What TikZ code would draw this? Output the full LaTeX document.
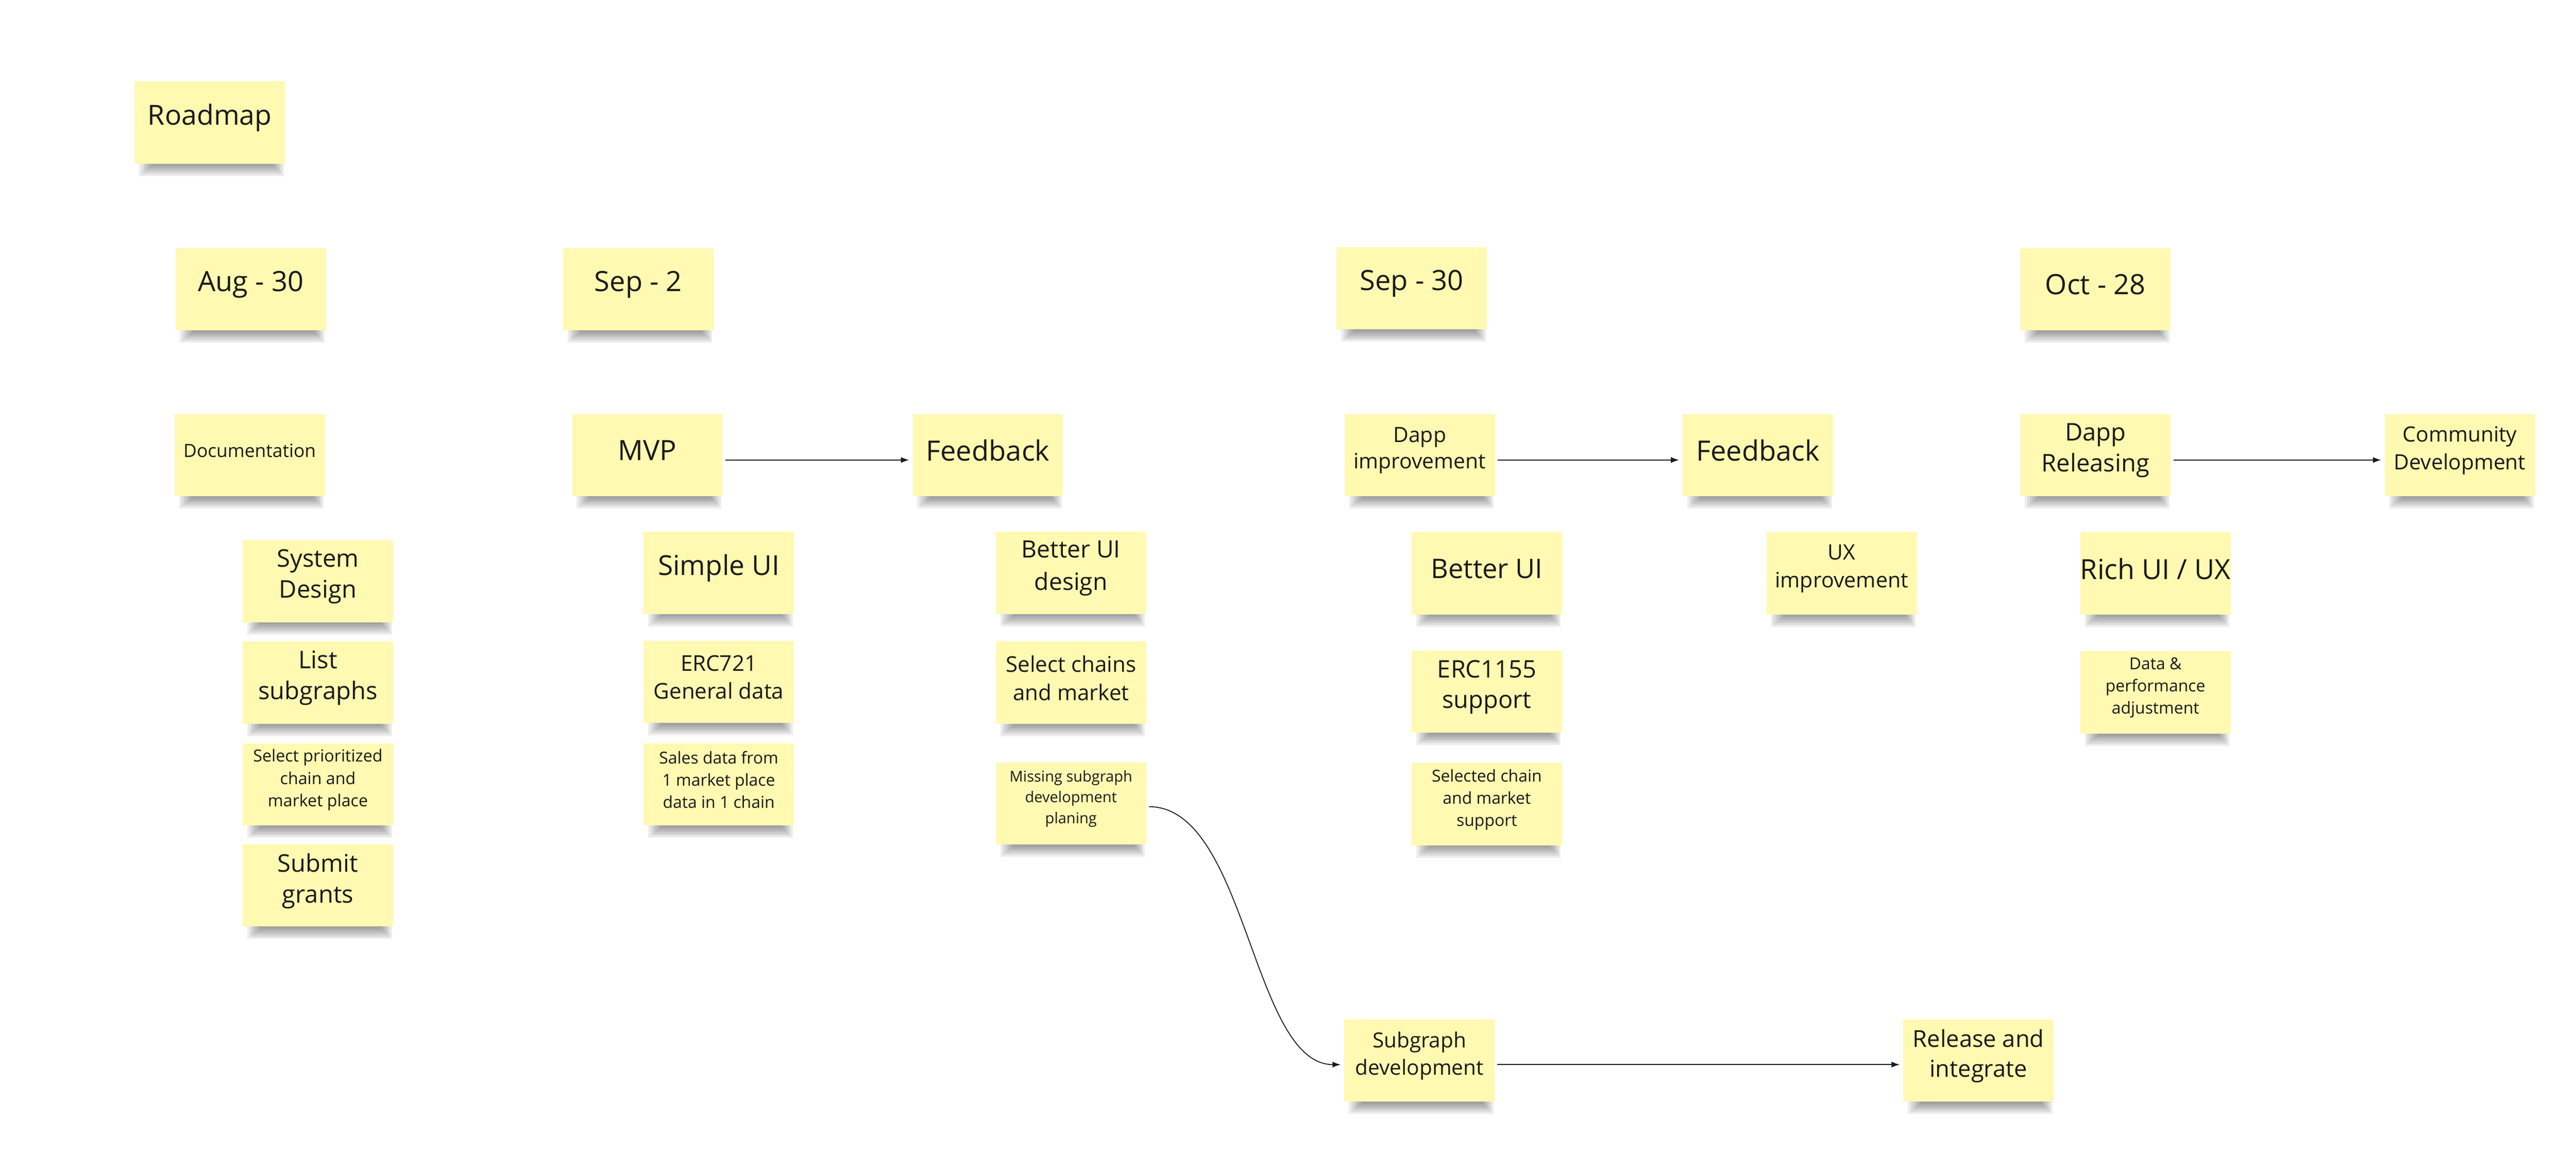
\documentclass[tikz,border=0pt]{standalone}
\usepackage{fontspec}
\setmainfont{Open Sans}
\usetikzlibrary{arrows.meta}
\definecolor{notey}{HTML}{FFF9B1}
\definecolor{inkc}{HTML}{1A1A1A}
\tikzset{
  notebox/.style={rectangle, fill=notey, minimum width=91.5pt, minimum height=50pt,
    inner sep=0pt},
  notetext/.style={inner sep=0pt, align=center, text=inkc},
  conn/.style={draw=inkc, line width=0.55pt, -{Latex[length=5pt,width=3.6pt]},
    shorten >=2pt, shorten <=1.5pt}
}
\newcommand\stickynote[5]{%
  \foreach \k in {0,...,5}{%
    \fill[black,opacity=0.07] (#2-43+\k*1.5, #3+25) rectangle (#2+45-\k*1.2, #3+25+7.5-\k*1.2);
  }
  \node[notebox] (#1) at (#2,#3) {};
  \node[notetext, font=\fontsize{#4}{#4}\selectfont] (#1-t) at (#2,#3-2.8) {#5};
}
\begin{document}
\begin{tikzpicture}[x=1pt,y=-1pt]
\fill[white] (0,0) rectangle (1568,701);
\useasboundingbox (0,0) rectangle (1568,701);

% title and dates
\stickynote{roadmap}{127.7}{74.6}{16.8}{Roadmap}
\stickynote{aug}{152.6}{176}{17}{Aug - 30}
\stickynote{sepA}{388.5}{176}{17}{Sep - 2}
\stickynote{sepB}{859.3}{175.5}{17}{Sep - 30}
\stickynote{oct}{1275.5}{176}{17}{Oct - 28}

% main row
\stickynote{doc}{152}{277}{11.1}{Documentation}
\stickynote{mvp}{394}{277}{17}{MVP}
\stickynote{fbA}{601.3}{277}{17}{Feedback}
\stickynote{dappimp}{864.2}{277}{12.8}{Dapp\\[3pt]improvement}
\stickynote{fbB}{1070}{277}{17}{Feedback}
\stickynote{dapprel}{1275.5}{277}{14.8}{Dapp\\[4pt]Releasing}
\stickynote{comm}{1497.3}{277}{12.8}{Community\\[4pt]Development}

% Aug column
\stickynote{sysd}{193.5}{353.7}{14.8}{System\\[4pt]Design}
\stickynote{lists}{193.5}{415.5}{14.8}{List\\[4pt]subgraphs}
\stickynote{selprio}{193.5}{477.5}{10.1}{Select prioritized\\[3.5pt]chain and\\[3.5pt]market place}
\stickynote{grants}{193.5}{539}{14.8}{Submit\\[4pt]grants}

% Sep 2 column
\stickynote{simpleui}{437.5}{348.7}{16.7}{Simple UI}
\stickynote{erc721}{437.5}{415}{13.2}{ERC721\\[4pt]General data}
\stickynote{sales}{437.5}{477.5}{10}{Sales data from\\[3.5pt]1 market place\\[3.5pt]data in 1 chain}

% Feedback column
\stickynote{betteruid}{651.9}{348.7}{14.5}{Better UI\\[5pt]design}
\stickynote{selchains}{651.9}{415.5}{13.2}{Select chains\\[4pt]and market}
\stickynote{miss}{651.9}{489}{9.1}{Missing subgraph\\[3.5pt]development\\[3.5pt]planing}

% Sep 30 column
\stickynote{betterui}{905}{349}{16.4}{Better UI}
\stickynote{erc1155}{905}{421}{14.7}{ERC1155\\[4pt]support}
\stickynote{selchain}{905}{489.5}{10}{Selected chain\\[3.5pt]and market\\[3.5pt]support}
\stickynote{uximp}{1121}{349}{12.9}{UX\\[4pt]improvement}

% Oct 28 column
\stickynote{richui}{1312}{349}{16.9}{Rich UI / UX}
\stickynote{dataperf}{1312}{421.5}{10}{Data \&\\[3.5pt]performance\\[3.5pt]adjustment}

% bottom row
\stickynote{subdev}{864}{645.5}{12.7}{Subgraph\\[4pt]development}
\stickynote{relint}{1204.3}{645.5}{14.2}{Release and\\[4pt]integrate}

% connectors
\draw[conn] ([yshift=-3pt]mvp.east) -- ([yshift=-3pt]fbA.west);
\draw[conn] ([yshift=-3pt]dappimp.east) -- ([yshift=-3pt]fbB.west);
\draw[conn] ([yshift=-3pt]dapprel.east) -- ([yshift=-3pt]comm.west);
\draw[conn] ([yshift=-2pt]miss.east) .. controls +(61,0) and +(-56,0) .. ([yshift=-2.5pt]subdev.west);
\draw[conn] ([yshift=-2.5pt]subdev.east) -- ([yshift=-2.5pt]relint.west);
\end{tikzpicture}
\end{document}
